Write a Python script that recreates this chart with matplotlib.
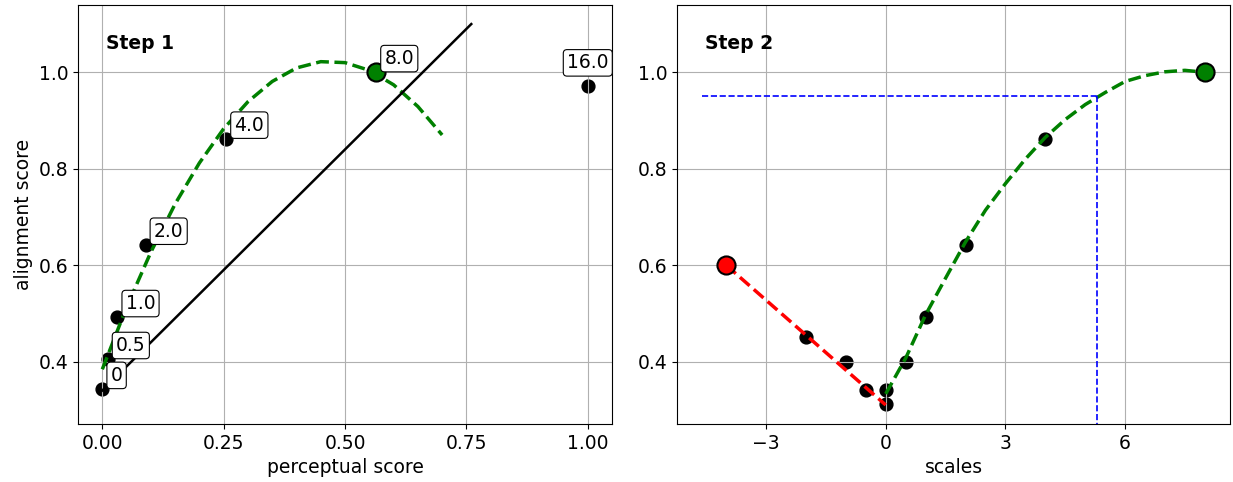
import numpy as np
import matplotlib
matplotlib.use("Agg")
import matplotlib.pyplot as plt

plt.rcParams['font.size'] = 13.5

# step 1 : score perceptuel vs score d'alignement
percep = [0.0, 0.011, 0.031, 0.089, 0.255, 1.0]
align = [0.343, 0.405, 0.492, 0.642, 0.862, 0.971]
labels = ['0', '0.5', '1.0', '2.0', '4.0', '16.0']
best_percep = 0.564
best_align = 1.0
best_label = '8.0'

# courbe verte (fit)
fit1_x = [0.0, 0.05, 0.10, 0.15, 0.20, 0.25, 0.30, 0.35, 0.40, 0.45, 0.50, 0.55, 0.60, 0.65, 0.70]
fit1_y = [0.384, 0.513, 0.627, 0.727, 0.812, 0.883, 0.939, 0.981, 1.009, 1.022, 1.020, 1.004, 0.974, 0.929, 0.870]

# droite noire
line_x = [0.0, 0.76]
line_y = [0.34, 1.10]

# step 2 : scales
scales = [-2, -1, -0.5, 0, 0, 0.5, 1, 2, 4]
align2 = [0.452, 0.40, 0.342, 0.342, 0.312, 0.40, 0.492, 0.642, 0.862]
red_pt = (-4, 0.60)
green_pt = (8, 1.0)
red_x = [-4, 0]
red_y = [0.60, 0.31]
fit2_x = [0, 0.5, 1, 1.5, 2, 2.5, 3, 3.5, 4, 4.5, 5, 5.5, 6, 6.5, 7, 7.5, 8]
fit2_y = [0.333, 0.407, 0.497, 0.573, 0.648, 0.714, 0.769, 0.820, 0.865, 0.902,
          0.933, 0.958, 0.981, 0.993, 1.001, 1.004, 1.0]
seuil = 0.95
seuil_x = 5.29
blue_start = -4.6

fig = plt.figure(figsize=(12.33, 4.82), dpi=100)
ax1 = fig.add_axes([0.0633, 0.1203, 0.4331, 0.8693])
ax2 = fig.add_axes([0.5491, 0.1203, 0.4485, 0.8693], sharey=ax1)

# ---- Step 1
ax1.scatter(percep, align, s=85, color='black')
ax1.plot(fit1_x, fit1_y, '--', color='green', lw=2.5)
ax1.plot(line_x, line_y, color='black', lw=1.8)
ax1.scatter([best_percep], [best_align], s=170, color='green', edgecolor='black', lw=1.5, zorder=3)

for i in range(len(labels)):
    if labels[i] == '16.0':
        ax1.annotate(labels[i], (percep[i], align[i]), xytext=(0, 10), textcoords='offset points',
                     ha='center', va='bottom',
                     bbox=dict(boxstyle='round,pad=0.2', fc='white', ec='black', lw=0.8), zorder=4)
    else:
        ax1.annotate(labels[i], (percep[i], align[i]), xytext=(6, 3), textcoords='offset points',
                     ha='left', va='bottom',
                     bbox=dict(boxstyle='round,pad=0.2', fc='white', ec='black', lw=0.8), zorder=4)
ax1.annotate(best_label, (best_percep, best_align), xytext=(6, 3), textcoords='offset points',
             ha='left', va='bottom',
             bbox=dict(boxstyle='round,pad=0.2', fc='white', ec='black', lw=0.8), zorder=4)

ax1.set_xticks([0.0, 0.25, 0.5, 0.75, 1.0])
ax1.set_yticks([0.4, 0.6, 0.8, 1.0])
ax1.set_xlabel("perceptual score")
ax1.set_ylabel("alignment score")
ax1.text(0.053, 0.93, "Step 1", transform=ax1.transAxes, fontweight='bold', va='top')
ax1.grid(True)

# ---- Step 2
ax2.scatter(scales, align2, s=85, color='black')
ax2.plot(red_x, red_y, '--', color='red', lw=2.5)
ax2.plot(fit2_x, fit2_y, '--', color='green', lw=2.5)
ax2.scatter([red_pt[0]], [red_pt[1]], s=170, color='red', edgecolor='black', lw=1.5, zorder=3)
ax2.scatter([green_pt[0]], [green_pt[1]], s=170, color='green', edgecolor='black', lw=1.5, zorder=3)
ax2.plot([blue_start, seuil_x], [seuil, seuil], '--', color='blue', lw=1.2)

# on fige les limites avant de tracer la verticale jusqu'en bas
ymin, ymax = ax1.get_ylim()
ax1.set_ylim(ymin, ymax)
ax2.plot([seuil_x, seuil_x], [seuil, ymin], '--', color='blue', lw=1.2)

ax2.set_xticks([-3, 0, 3, 6])
ax2.set_xlabel("scales")
ax2.text(0.05, 0.93, "Step 2", transform=ax2.transAxes, fontweight='bold', va='top')
ax2.grid(True)
ax2.tick_params(labelleft=True)

plt.savefig("out.png")
